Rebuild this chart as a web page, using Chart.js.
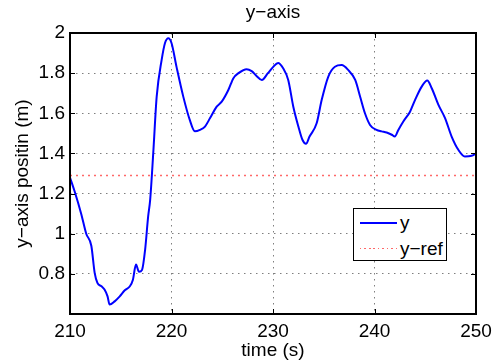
<!DOCTYPE html>
<html>
<head>
<meta charset="utf-8">
<script src="https://cdn.jsdelivr.net/npm/chart.js@4.4.1/dist/chart.umd.min.js"></script>
<style>
  html, body { margin: 0; padding: 0; background: #fff; }
  #wrap { position: relative; width: 499px; height: 364px; }
  #title {
    position: absolute; left: 70px; width: 406px; top: 1px; height: 22px;
    text-align: center; line-height: 22px;
    font: 19px "Liberation Sans", Arial, sans-serif; color: #000;
  }
  #legend {
    position: absolute; left: 353px; top: 208px; width: 92px; height: 51px;
    border: 1.5px solid #000; background: #fff;
    font: 19px "Liberation Sans", Arial, sans-serif; color: #000;
  }
  .row { position: absolute; left: 0; height: 24px; line-height: 24px; }
  .sample { position: absolute; left: 6px; width: 37px; top: 11px; height: 2px; }
  .lbl { position: absolute; left: 46px; top: 0; white-space: nowrap; }
</style>
</head>
<body>
<div id="wrap">
  <canvas id="chart" width="499" height="364"></canvas>
  <div id="title">y&minus;axis</div>
  <div id="legend"></div>
</div>
<script>
// time (s) and y position (m)
const timeS = [
  210.0, 210.46, 211.1, 211.6, 212.1, 212.43, 212.7, 213.1, 213.4, 213.7,
  213.9, 214.4, 214.9, 215.4, 215.9, 216.2, 216.5, 216.8, 217.1, 217.4,
  217.7, 217.9, 218.2, 218.54, 219.03, 219.36, 219.69, 220.0, 220.5, 221.16,
  221.8, 222.3, 222.8, 223.3, 223.8, 224.45, 224.95, 225.6, 226.1, 226.6,
  227.4, 227.9, 228.4, 228.9, 229.5, 230.0, 230.5, 231.0, 231.5, 232.0,
  232.5, 232.9, 233.25, 233.6, 234.3, 234.8, 235.45, 236.1, 236.77, 237.4,
  238.1, 238.6, 239.06, 239.56, 240.2, 240.7, 241.2, 241.7, 242.0, 242.35,
  242.84, 243.5, 244.0, 244.65, 245.2, 245.64, 246.3, 246.95, 247.6, 248.26,
  248.9, 249.57, 250.0
];
const yPos = [
  1.28, 1.21, 1.10, 1.00, 0.94, 0.805, 0.755, 0.738, 0.722, 0.688,
  0.647, 0.663, 0.688, 0.718, 0.738, 0.771, 0.846, 0.81, 0.82, 0.92,
  1.086, 1.17, 1.40, 1.683, 1.866, 1.95, 1.974, 1.95, 1.83, 1.683,
  1.567, 1.51, 1.517, 1.534, 1.576, 1.633, 1.658, 1.716, 1.775, 1.80,
  1.82, 1.81, 1.785, 1.766, 1.80, 1.83, 1.85, 1.824, 1.766, 1.633,
  1.534, 1.468, 1.448, 1.484, 1.55, 1.667, 1.783, 1.832, 1.84, 1.816,
  1.766, 1.68, 1.60, 1.542, 1.517, 1.51, 1.504, 1.493, 1.484, 1.517,
  1.559, 1.608, 1.667, 1.733, 1.763, 1.725, 1.642, 1.576, 1.484, 1.418,
  1.385, 1.388, 1.40
];
const refTime = [210, 250];
const yRef = [1.29, 1.29];

const xTicks = [210, 220, 230, 240, 250];
const yTicks = [0.6, 0.8, 1, 1.2, 1.4, 1.6, 1.8, 2];

const FONT = '"Liberation Sans", Arial, sans-serif';

// matlab-style box with ticks pointing inwards
const boxPlugin = {
  id: 'box',
  afterDatasetsDraw(chart) {
    const { ctx, chartArea: a, scales } = chart;
    ctx.save();
    ctx.setLineDash([]);
    ctx.strokeStyle = '#000';
    ctx.lineWidth = 1;
    ctx.beginPath();
    scales.x.ticks.forEach(t => {
      const px = Math.round(scales.x.getPixelForValue(t.value)) + 0.5;
      ctx.moveTo(px, a.bottom); ctx.lineTo(px, a.bottom - 5);
      ctx.moveTo(px, a.top); ctx.lineTo(px, a.top + 5);
    });
    scales.y.ticks.forEach(t => {
      const py = Math.round(scales.y.getPixelForValue(t.value)) + 0.5;
      ctx.moveTo(a.left, py); ctx.lineTo(a.left + 5, py);
      ctx.moveTo(a.right, py); ctx.lineTo(a.right - 5, py);
    });
    ctx.stroke();
    ctx.lineWidth = 2;
    ctx.strokeRect(a.left, a.top, a.right - a.left, a.bottom - a.top);
    ctx.restore();
  }
};

const chart = new Chart(document.getElementById('chart'), {
  type: 'line',
  data: {
    datasets: [
      {
        label: 'y',
        data: timeS.map((t, i) => ({ x: t, y: yPos[i] })),
        borderColor: '#0000ff',
        borderWidth: 2,
        pointRadius: 0,
        cubicInterpolationMode: 'monotone',
        fill: false,
        order: 0
      },
      {
        label: 'y\u2212ref',
        data: refTime.map((t, i) => ({ x: t, y: yRef[i] })),
        borderColor: 'rgba(255,40,40,0.7)',
        borderWidth: 1.5,
        borderDash: [2, 4],
        pointRadius: 0,
        fill: false,
        order: 1
      }
    ]
  },
  options: {
    responsive: false,
    animation: false,
    layout: { padding: { left: 0, right: 23, top: 33, bottom: 0 } },
    scales: {
      x: {
        type: 'linear',
        min: 210,
        max: 250,
        afterBuildTicks(scale) { scale.ticks = xTicks.map(v => ({ value: v })); },
        afterFit(scale) { scale.height = 50; },
        ticks: {
          color: '#000',
          font: { family: FONT, size: 19 },
          padding: 6,
          maxRotation: 0
        },
        grid: {
          color: 'rgba(0,0,0,0.5)',
          drawTicks: false
        },
        border: { display: false, dash: [1.5, 4.5] },
        title: {
          display: true,
          text: 'time (s)',
          color: '#000',
          font: { family: FONT, size: 19 },
          padding: { top: 0, bottom: 2 }
        }
      },
      y: {
        min: 0.6,
        max: 2,
        afterBuildTicks(scale) { scale.ticks = yTicks.map(v => ({ value: v })); },
        afterFit(scale) { scale.width = 70; },
        ticks: {
          color: '#000',
          font: { family: FONT, size: 19 },
          padding: 5,
          callback: v => (v === 0.6 ? '' : String(v))
        },
        grid: {
          color: 'rgba(0,0,0,0.5)',
          drawTicks: false
        },
        border: { display: false, dash: [1.5, 4.5] },
        title: {
          display: true,
          text: 'y\u2212axis positin (m)',
          color: '#000',
          font: { family: FONT, size: 19 },
          padding: { top: 11, bottom: 0 }
        }
      }
    },
    plugins: {
      legend: { display: false },
      tooltip: { enabled: false },
      title: { display: false }
    }
  },
  plugins: [boxPlugin]
});

// legend box inside the axes, built from the datasets
const legend = document.getElementById('legend');
chart.data.datasets.forEach((ds, i) => {
  const row = document.createElement('div');
  row.className = 'row';
  row.style.top = (2 + i * 26) + 'px';
  const s = document.createElement('div');
  s.className = 'sample';
  if (ds.borderDash) {
    s.style.background = 'repeating-linear-gradient(90deg,' + ds.borderColor + ' 0 1.5px, transparent 1.5px 4.5px)';
    s.style.height = '1px';
  } else {
    s.style.background = ds.borderColor;
  }
  const l = document.createElement('div');
  l.className = 'lbl';
  l.textContent = ds.label;
  row.appendChild(s);
  row.appendChild(l);
  legend.appendChild(row);
});
</script>
</body>
</html>
